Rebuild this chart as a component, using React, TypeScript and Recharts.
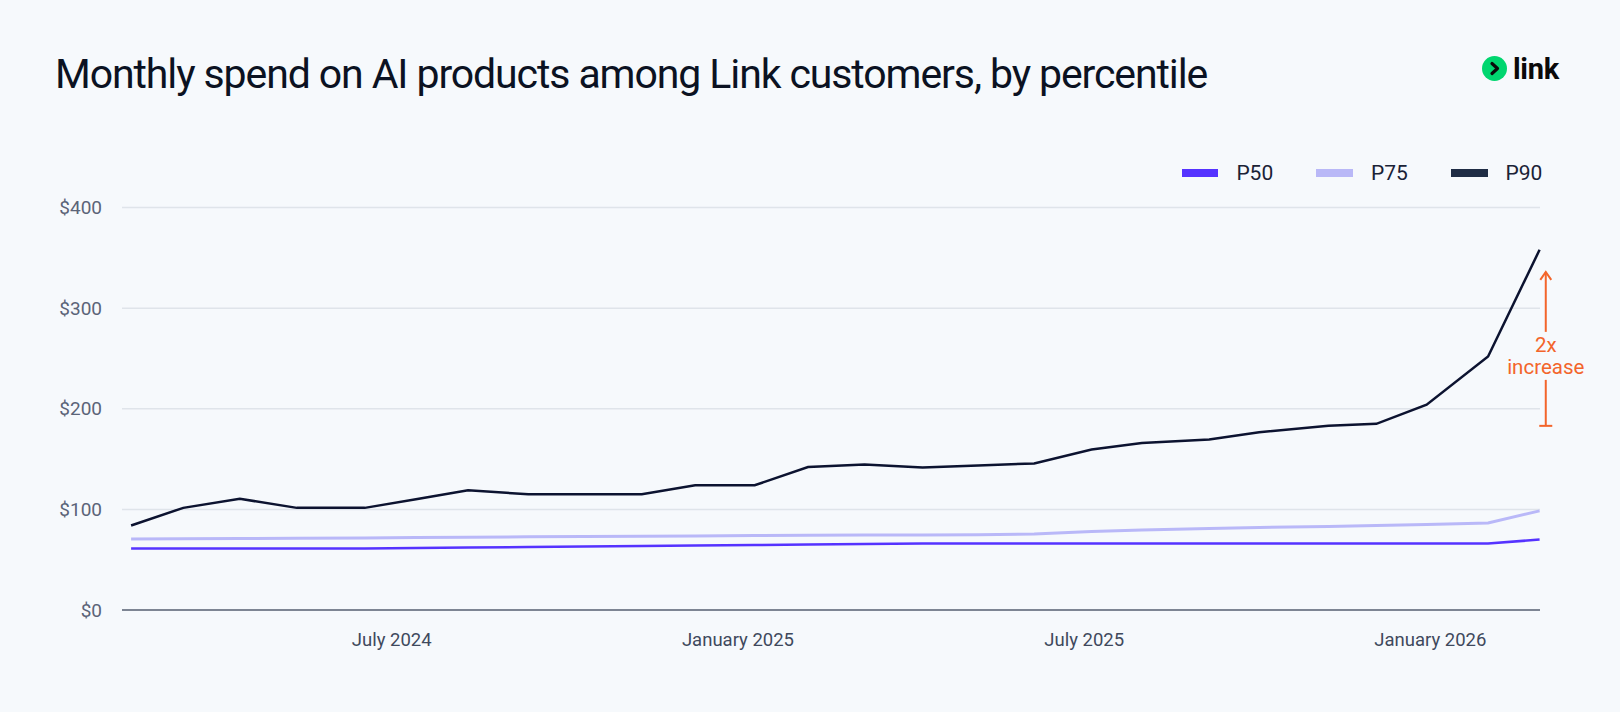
import React from 'react';
import { LineChart, Line, XAxis, YAxis, CartesianGrid, Legend, ReferenceLine } from 'recharts';

// one point per reporting period
const DATES = [
  '2024-02-15', '2024-03-13', '2024-04-12', '2024-05-12', '2024-06-17', '2024-07-14',
  '2024-08-11', '2024-09-12', '2024-10-11', '2024-11-11', '2024-12-09', '2025-01-10',
  '2025-02-07', '2025-03-07', '2025-04-07', '2025-05-06', '2025-06-05', '2025-07-05',
  '2025-08-01', '2025-09-06', '2025-10-02', '2025-11-08', '2025-12-03', '2025-12-30',
  '2026-02-01', '2026-02-26',
];

const P50 = [
  61, 61, 61, 61, 61, 61.5, 62, 62.5, 63, 63.5, 64, 64.5, 65,
  65.5, 66, 66, 66, 66, 66, 66, 66, 66, 66, 66, 66, 70,
];

const P75 = [
  70.5, 70.7, 71, 71.3, 71.6, 72, 72.3, 72.7, 73, 73.3, 73.6, 74, 74.3,
  74.5, 74.6, 74.7, 75.5, 78, 79.5, 81, 82, 83, 84, 85, 86.5, 98.5,
];

const P90 = [
  84, 101.5, 110.5, 101.5, 101.5, 110, 119, 115, 115, 115, 124, 124, 142,
  144.6, 141.6, 143.5, 145.7, 159.5, 166, 169.5, 176.7, 183, 185, 204, 252, 358,
];

const SERIES = ['P50', 'P75', 'P90'];
const X_TICK_DATES = ['2024-07-01', '2025-01-01', '2025-07-01', '2026-01-01'];
const X_TICK_LABELS = ['July 2024', 'January 2025', 'July 2025', 'January 2026'];
const Y_TICKS = [0, 100, 200, 300, 400];

const ANNOTATION_DATE = '2026-03-01';
const ANNOTATION_FROM = 183;
const ANNOTATION_TO = 336;
const ANNOTATION_TEXT = ['2x', 'increase'];

const LINE_COLORS: Record<string, string> = { P50: '#5533ff', P75: '#b9b8f8', P90: '#0c1330' };
const LEGEND_COLORS: Record<string, string> = { P50: '#5533ff', P75: '#b9b8f7', P90: '#1f2d45' };
const ORANGE = '#f3652b';
const FONT = 'Roboto, "Noto Sans", sans-serif';

// months since Jan 2024, so every month gets the same width
const monthPos = (iso: string) => {
  const [y, m, d] = iso.split('-').map(Number);
  const days = new Date(y, m, 0).getDate();
  return (y - 2024) * 12 + (m - 1) + (d - 1) / days;
};

const data = DATES.map((d, i) => ({
  m: monthPos(d),
  P50: P50[i],
  P75: P75[i],
  P90: P90[i],
}));

const xTicks = X_TICK_DATES.map(monthPos);

const renderLegend = () => (
  <div style={{ display: 'flex', fontFamily: FONT, fontSize: 21, color: '#1a2236', height: 26 }}>
    {SERIES.map((s) => (
      <div key={s} style={{ width: 134.6, display: 'flex', alignItems: 'center' }}>
        <span style={{ width: 36.7, height: 7.5, background: LEGEND_COLORS[s], marginRight: 18, display: 'inline-block' }} />
        <span>{s}</span>
      </div>
    ))}
  </div>
);

const IncreaseArrow = (props: any) => {
  const { x1, y1, y2 } = props;
  const top = Math.min(y1, y2);
  const bottom = Math.max(y1, y2);
  const mid = (top + bottom) / 2 + 7;
  return (
    <g>
      <g stroke={ORANGE} strokeWidth={2} fill="none">
        <line x1={x1} y1={top} x2={x1} y2={mid - 24} />
        <polyline points={`${x1 - 5.5},${top + 8} ${x1},${top} ${x1 + 5.5},${top + 8}`} />
        <line x1={x1} y1={mid + 24} x2={x1} y2={bottom} />
        <line x1={x1 - 6.5} y1={bottom} x2={x1 + 6.5} y2={bottom} />
      </g>
      <text x={x1} y={mid - 11} textAnchor="middle" dominantBaseline="central" fill={ORANGE} fontFamily={FONT} fontSize={20.5}>
        {ANNOTATION_TEXT[0]}
      </text>
      <text x={x1} y={mid + 11} textAnchor="middle" dominantBaseline="central" fill={ORANGE} fontFamily={FONT} fontSize={20.5}>
        {ANNOTATION_TEXT[1]}
      </text>
    </g>
  );
};

const App: React.FC = () => {
  const annX = monthPos(ANNOTATION_DATE);
  return (
    <div style={{ position: 'relative', width: 1620, height: 712, background: '#f6f9fc', overflow: 'hidden' }}>
      <style>{'body{margin:0;background:#f6f9fc}'}</style>
      <div
        style={{
          position: 'absolute', left: 55, top: 54, fontFamily: FONT, fontSize: 41, lineHeight: 1,
          letterSpacing: -1.1, color: '#0b1222', whiteSpace: 'nowrap',
        }}
      >
        Monthly spend on AI products among Link customers, by percentile
      </div>
      <div style={{ position: 'absolute', left: 1482.3, top: 55.7, width: 25, height: 25, borderRadius: '50%', background: '#00d66f' }}>
        <svg width={25} height={25}>
          <polyline points="10,7.5 15.5,12.5 10,17.5" fill="none" stroke="#0a0a0a" strokeWidth={3.2} strokeLinecap="round" strokeLinejoin="round" />
        </svg>
      </div>
      <div
        style={{
          position: 'absolute', left: 1513, top: 55, fontFamily: FONT, fontSize: 29, fontWeight: 700, lineHeight: 1,
          color: '#0a0a0a', letterSpacing: -0.3,
        }}
      >
        link
      </div>
      <LineChart width={1620} height={712} data={data} margin={{ top: 207.5, right: 80, bottom: 42, left: 0 }}>
        <CartesianGrid vertical={false} stroke="#dfe4ea" strokeWidth={1.5} />
        <XAxis
          dataKey="m"
          type="number"
          domain={[1.325, 25.9]}
          ticks={xTicks}
          tickFormatter={(v: number) => X_TICK_LABELS[xTicks.indexOf(v)] ?? ''}
          height={60}
          tickSize={0}
          tickMargin={23}
          tickLine={false}
          axisLine={{ stroke: '#7d8593', strokeWidth: 2 }}
          tick={{ fontFamily: FONT, fontSize: 18.5, fill: '#3f495d' }}
        />
        <YAxis
          domain={[0, 400]}
          ticks={Y_TICKS}
          tickFormatter={(v: number) => `$${v}`}
          width={122}
          tickSize={0}
          tickMargin={20}
          tickLine={false}
          axisLine={false}
          tick={{ fontFamily: FONT, fontSize: 19, fill: '#5b6478' }}
        />
        <Legend
          layout="horizontal"
          align="center"
          verticalAlign="middle"
          content={renderLegend}
          wrapperStyle={{ top: 160, left: 1181.7, width: 'auto', height: 26 }}
        />
        {SERIES.map((s) => (
          <Line
            key={s}
            type="linear"
            dataKey={s}
            stroke={LINE_COLORS[s]}
            strokeWidth={s === 'P75' ? 3 : 2.5}
            dot={false}
            activeDot={false}
            isAnimationActive={false}
          />
        ))}
        <ReferenceLine
          segment={[{ x: annX, y: ANNOTATION_FROM }, { x: annX, y: ANNOTATION_TO }]}
          ifOverflow="visible"
          shape={IncreaseArrow}
        />
      </LineChart>
    </div>
  );
};

export default App;
